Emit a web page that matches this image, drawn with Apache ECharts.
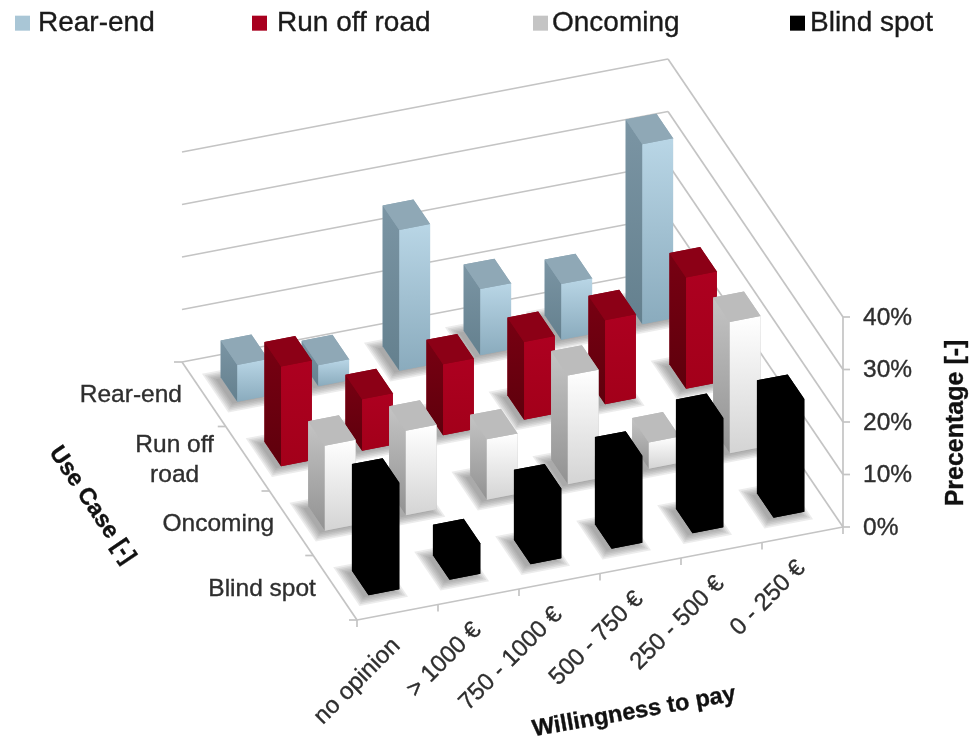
<!DOCTYPE html>
<html><head><meta charset="utf-8">
<style>html,body{margin:0;padding:0;background:#fff}#c{width:971px;height:744px;filter:blur(0.7px)}</style>
<script src="https://cdn.jsdelivr.net/npm/echarts@6/dist/echarts.min.js"></script>
</head><body><div id="c"></div>
<script>
const categories = ['no opinion', '> 1000 €', '750 - 1000 €', '500 - 750 €', '250 - 500 €', '0 - 250 €'];
const useCases = ['Blind spot', 'Oncoming', 'Run off\nroad', 'Rear-end'];
const valueTicks = [0, 10, 20, 30, 40];
const rearEnd = [7, 4, 26.8, 12.6, 10.6, 34.3];
const runOffRoad = [19, 9.8, 13.5, 14.8, 16, 21.2];
const oncoming = [16.2, 16.1, 11.5, 20.7, 5, 25];
const blindSpot = [20.3, 5.8, 13.3, 16.6, 20.8, 21.5];

const FONT = '"Liberation Sans", Arial, sans-serif';
const chart = echarts.init(document.getElementById('c'), null, {renderer: 'canvas'});
const grad = (a, b) => new echarts.graphic.LinearGradient(0, 0, 0, 1, [{offset: 0, color: a}, {offset: 1, color: b}]);

// floor plane lives in a hidden cartesian grid; this shear turns grid pixels into the oblique view
const L = 357, R = 843, T = 362, B = 620, SX = 175, SY = 93;
const shear = p => [p[0] - (B - p[1]) * SX / (B - T), p[1] - (p[0] - L) * SY / (R - L)];
const valueToPx = v => echarts.number.linearMap(v, [0, 40], [0, 210]);
const BAR = 0.38; // bar footprint as share of a cell
const SHADOW_STEPS = 6;

function project(api, u, w, v) {
  const p = shear(api.coord([u, w]));
  return [p[0], p[1] - valueToPx(v)];
}

const styles = [
  {name: 'Rear-end', row: 3, values: rearEnd, icon: '#a9c6d6', top: '#8fa8b6', left: ['#7b95a4', '#64808e'], front: ['#b9d6e6', '#8aabbd']},
  {name: 'Run off road', row: 2, values: runOffRoad, icon: '#a8001f', top: '#8c0016', left: ['#780012', '#5e000c'], front: ['#ad0020', '#a3001a']},
  {name: 'Oncoming', row: 1, values: oncoming, icon: '#c4c4c4', top: '#bcbcbc', left: ['#c4c4c4', '#929292'], front: ['#ffffff', '#d4d4d4']},
  {name: 'Blind spot', row: 0, values: blindSpot, icon: '#000000', top: '#000000', left: ['#000000', '#000000'], front: ['#000000', '#000000']}
];

function barItem(s) {
  return (params, api) => {
    const i = api.value(0), j = api.value(1), v = api.value(2);
    const u0 = i + 0.5 - BAR / 2, u1 = i + 0.5 + BAR / 2, w0 = j + 0.5 - BAR / 2, w1 = j + 0.5 + BAR / 2;
    const P = (u, w, h) => project(api, u, w, h);
    const face = (pts, fill) => ({type: 'polygon', shape: {points: pts}, style: {fill: fill}});
    return {type: 'group', children: [
      // silhouette underneath so the faces leave no light seams
      face([P(u0, w1, v), P(u1, w1, v), P(u1, w0, v), P(u1, w0, 0), P(u0, w0, 0), P(u0, w1, 0)], s.top),
      face([P(u0, w1, v), P(u0, w0, v), P(u0, w0, 0), P(u0, w1, 0)], grad(s.left[0], s.left[1])),
      face([P(u0, w0, v), P(u1, w0, v), P(u1, w0, 0), P(u0, w0, 0)], grad(s.front[0], s.front[1])),
      face([P(u0, w0, v), P(u1, w0, v), P(u1, w1, v), P(u0, w1, v)], s.top)
    ]};
  };
}

function shadowItem(params, api) {
  const i = api.value(0), j = api.value(1);
  const kids = [];
  for (let k = SHADOW_STEPS - 1; k >= 0; k--) {
    const e = BAR / 2 + k * 0.022;
    const pts = [[i + 0.5 - e, j + 0.5 - e], [i + 0.5 + e, j + 0.5 - e], [i + 0.5 + e, j + 0.5 + e], [i + 0.5 - e, j + 0.5 + e]].map(q => {
      const p = project(api, q[0], q[1], 0);
      return [p[0] - 5, p[1] + 2];
    });
    kids.push({type: 'polygon', shape: {points: pts}, style: {fill: 'rgba(105,105,105,0.13)'}});
  }
  return {type: 'group', silent: true, children: kids};
}

function frameItem(params, api) {
  const lineStyle = {stroke: '#c4c4c4', lineWidth: 1.7, fill: 'none'};
  const seg = (a, b, st) => ({type: 'line', shape: {x1: a[0], y1: a[1], x2: b[0], y2: b[1]}, style: st || lineStyle});
  const txt = (x, y, rot, text, font, fill, align, extra) => ({type: 'text', x: x, y: y, rotation: rot,
    style: Object.assign({text: text, font: font + ' ' + FONT, fill: fill, stroke: fill, lineWidth: 0.35, align: align, verticalAlign: 'middle'}, extra || {})});
  const kids = [];
  const nu = categories.length, nw = useCases.length, vmax = valueTicks[valueTicks.length - 1];
  valueTicks.forEach(v => {
    const c = project(api, 0, nw, v), d = project(api, nu, nw, v), b = project(api, nu, 0, v);
    kids.push(seg(c, d), seg(d, b));
    kids.push(seg(b, [b[0] + 7, b[1]]));
    kids.push(txt(b[0] + 20, b[1] + 1, 0, v + '%', '24.5px', '#2e2e2e', 'left'));
  });
  kids.push(seg(project(api, nu, 0, 0), project(api, nu, 0, vmax)));
  const a = project(api, 0, 0, 0);
  kids.push(seg(a, project(api, nu, 0, 0)), seg(a, project(api, 0, nw, 0)));
  for (let i = 0; i <= nu; i++) {
    const p = project(api, i, 0, 0);
    kids.push(seg(p, [p[0], p[1] + 7]));
  }
  for (let j = 0; j <= nw; j++) {
    const p = project(api, 0, j, 0);
    kids.push(seg(p, [p[0] - 8, p[1]]));
  }
  categories.forEach((c, i) => {
    const p = project(api, i + 0.5, 0, 0);
    kids.push(txt(p[0] - 1, p[1] + 30, 45 * Math.PI / 180, c, '24px', '#2e2e2e', 'right'));
  });
  useCases.forEach((c, j) => {
    const p = project(api, 0, j + 0.5, 0);
    kids.push(txt(p[0] - 73, p[1] + 1, 0, c, '24.5px', '#2e2e2e', 'center', {lineHeight: 30}));
  });
  kids.push(txt(92, 505, -56 * Math.PI / 180, 'Use Case [-]', 'bold 23.5px', '#111', 'center'));
  kids.push(txt(634, 712, 10 * Math.PI / 180, 'Willingness to pay', 'bold 23.5px', '#111', 'center'));
  kids.push(txt(956, 423, Math.PI / 2, 'Precentage [-]', 'bold 25px', '#111', 'center'));
  return {type: 'group', silent: true, children: kids};
}

const cells = s => s.values.map((v, i) => [i, s.row, v]).reverse();
const legendLeft = [15, 252, 533, 790];
const legendGap = [8, 10, 4, 5];

chart.setOption({
  animation: false,
  backgroundColor: '#fff',
  grid: {left: L, width: R - L, top: T, height: B - T},
  xAxis: {type: 'value', min: 0, max: categories.length, show: false},
  yAxis: {type: 'value', min: 0, max: useCases.length, show: false},
  legend: styles.map((s, k) => ({
    data: [s.name], left: legendLeft[k], top: 9, selectedMode: false, icon: 'rect',
    itemWidth: 15, itemHeight: 15, padding: 0,
    textStyle: {fontFamily: FONT, fontSize: 28, color: '#1a1a1a', textBorderColor: '#1a1a1a', textBorderWidth: 0.35, padding: [0, 0, 0, legendGap[k] - 5]}
  })),
  series: [
    {type: 'custom', name: 'frame', renderItem: frameItem, data: [[0, 0]], clip: false, z: 1, silent: true},
    {type: 'custom', name: 'shadow', renderItem: shadowItem, data: styles.flatMap(cells), clip: false, z: 2, silent: true}
  ].concat(styles.map(s => ({
    type: 'custom', name: s.name, renderItem: barItem(s), data: cells(s), clip: false, z: 3,
    itemStyle: {color: s.icon}
  })))
});
</script></body></html>
